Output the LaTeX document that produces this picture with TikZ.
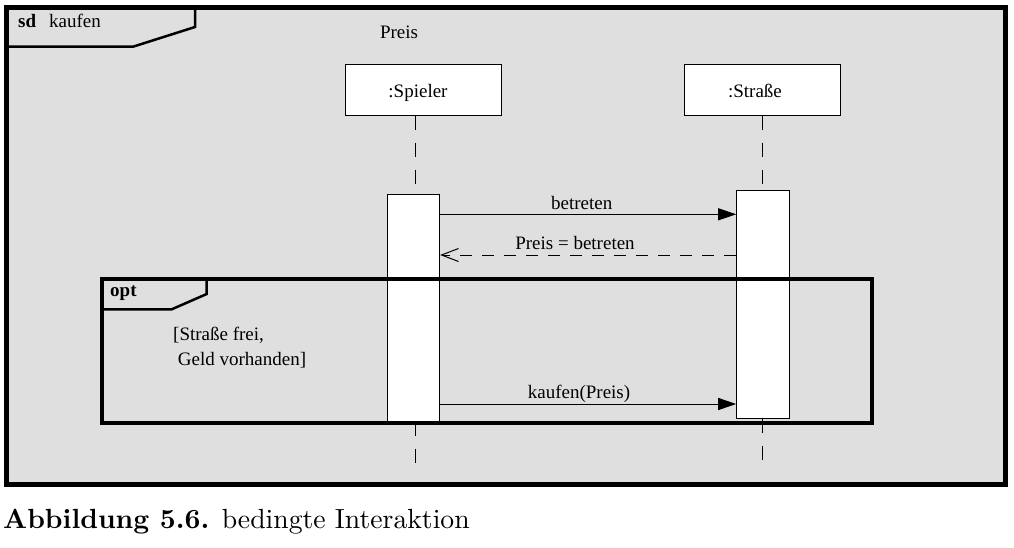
\documentclass[tikz,border=0pt]{standalone}
\usepackage{fontspec}
\newfontfamily\tnr{Liberation Serif}
\usetikzlibrary{arrows.meta}
\definecolor{bggray}{RGB}{223,223,223}
\begin{document}
\begin{tikzpicture}[x=1pt,y=-1pt,
  txt/.style={font=\tnr\fontsize{19}{24.5}\selectfont, inner sep=0},
  btxt/.style={font=\tnr\bfseries\fontsize{19}{23}\selectfont, inner sep=0},
  obj/.style={draw, fill=white, line width=1pt, minimum width=156pt, minimum height=51pt, inner sep=0},
  act/.style={draw, fill=white, line width=1pt, inner sep=0},
  life/.style={line width=1pt, dash pattern=on 14pt off 13pt},
  msg/.style={line width=1pt, -{Triangle[length=18pt,width=12pt]}},
  ret/.style={line width=1pt, dash pattern=on 12pt off 10pt, -{Straight Barb[length=17pt,width=13pt,line width=1pt]}},
  tab/.style={line width=2.5pt, line join=miter},
]
\useasboundingbox (0,0) rectangle (1014,547);
% outer frame
\fill[bggray] (6.5,7.5) rectangle (1005.5,484.5);
\draw[line width=4.5pt] (6.5,7.5) rectangle (1005.5,484.5);
\draw[tab] (195,7.5) -- (195,27) -- (133,46.7) -- (6.5,46.7);
\node[btxt, anchor=base west] (sd) at (18,27) {sd};
\node[txt, anchor=base west] (sdname) at (49,27) {kaufen};
\node[txt, anchor=base] (preis) at (399,38) {Preis};

% objects
\node[obj] (sp) at (423.3,89.6) {};
\node[obj] (st) at (762.5,89.6) {};
\node[txt, anchor=base] (spname) at (418,97) {:Spieler};
\node[txt, anchor=base] (stname) at (755,97) {:Straße};
\coordinate (spl) at (415,0);
\coordinate (stl) at (762.7,0);
\coordinate (spEnd) at (415,475);
\coordinate (stEnd) at (762.7,470);

% activations
\node[act, minimum width=52.6pt, minimum height=227pt] (spa) at (413.3,307.5) {};
\node[act, minimum width=52.3pt, minimum height=228pt] (sta) at (762.85,304) {};

% lifelines
\draw[life] (sp.south -| spl) -- (spa.north -| spl);
\draw[life] (st.south -| stl) -- (sta.north -| stl);
\draw[life] (spa.south -| spl) -- (spEnd);
\draw[life] (sta.south -| stl) -- (stEnd);

% messages
\coordinate (m1) at (0,214.3);
\coordinate (m2) at (0,255);
\coordinate (m3) at (0,404);
\draw[msg] (spa.east |- m1) -- (sta.west |- m1);
\node[txt, anchor=base] (l1) at (581.7,209.5) {betreten};
\draw[ret] (sta.west |- m2) -- (spa.east |- m2);
\node[txt, anchor=base] (l2) at (575,249.5) {Preis = betreten};
\draw[msg] (spa.east |- m3) -- (sta.west |- m3);
\node[txt, anchor=base] (l3) at (579,398.5) {kaufen(Preis)};

% opt fragment
\node[draw, line width=3.5pt, minimum width=770pt, minimum height=144pt, anchor=north west, inner sep=0] (opt) at (100,277) {};
\draw[tab] (206.7,277) -- (206.7,294) -- (171.7,309.3) -- (100,309.3);
\node[btxt, anchor=base west] (optl) at (110,296) {opt};
\node[txt, anchor=base west, align=left] (guard) at (173,365) {[Straße frei,\\\ Geld vorhanden]};

% caption
\node[anchor=base west, inner sep=0] (cap) at (3,528)
  {\scalebox{2.77}{\fontsize{10}{12}\selectfont\textbf{Abbildung 5.6.} bedingte Interaktion}};
\end{tikzpicture}
\end{document}
